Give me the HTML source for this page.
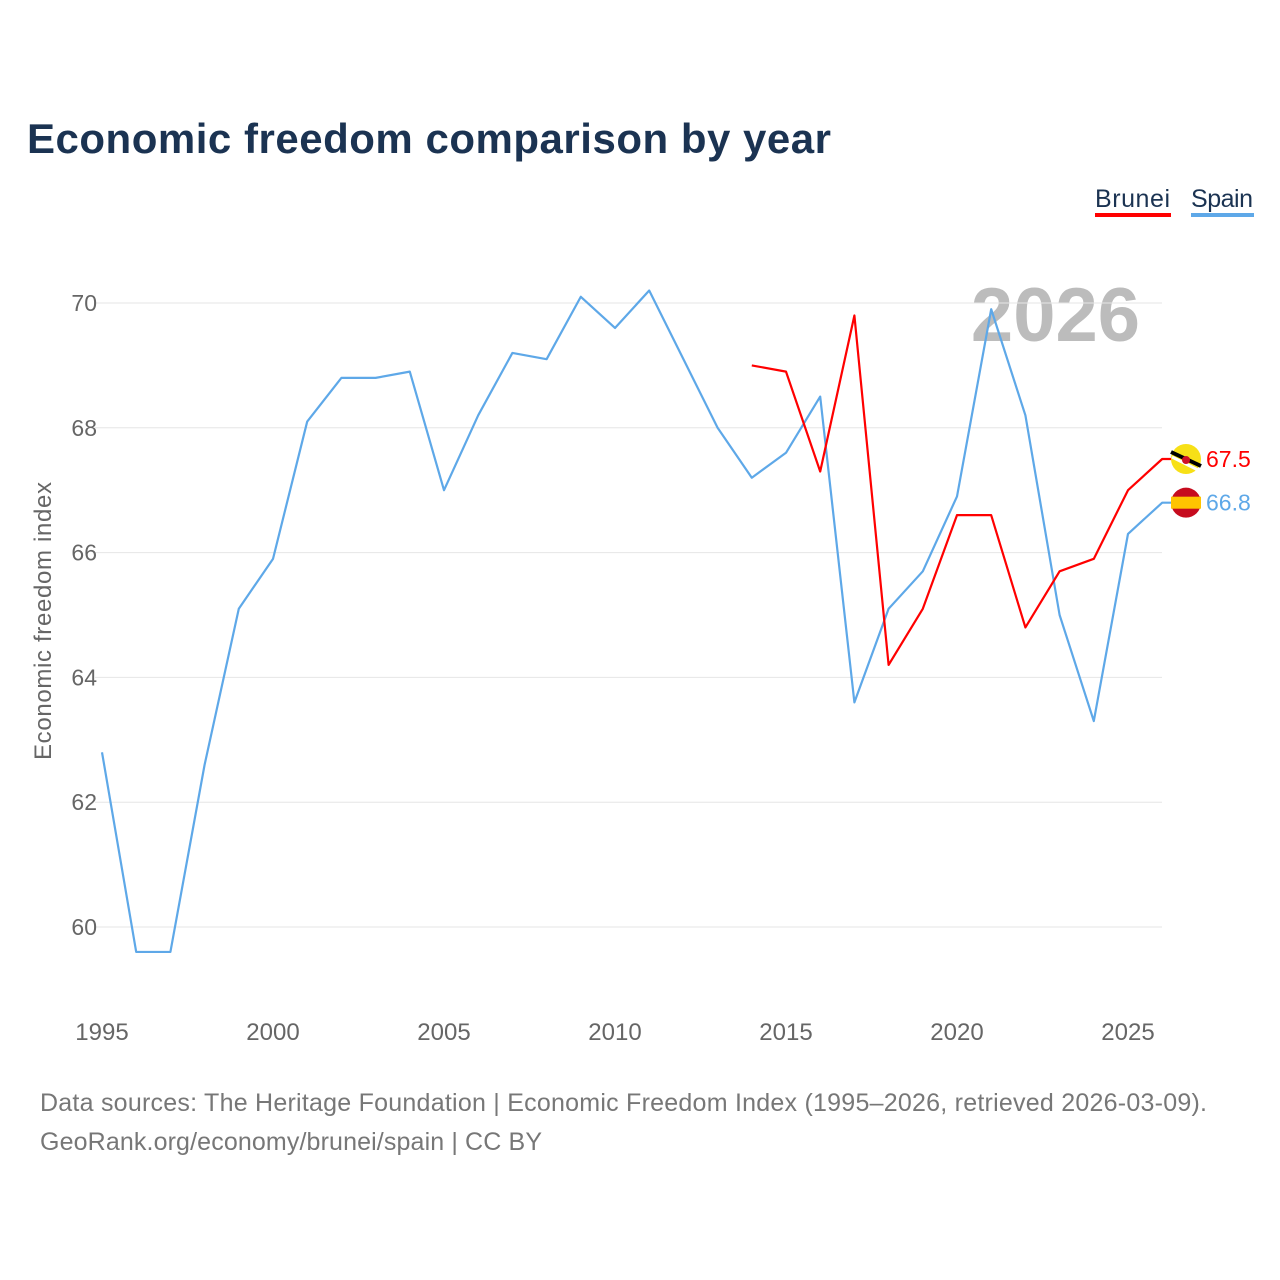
<!DOCTYPE html>
<html><head><meta charset="utf-8">
<style>
body{margin:0;background:#fff;font-family:"Liberation Sans",sans-serif;}
#wrap{position:relative;width:1280px;height:1280px;overflow:hidden;background:#fff}
</style></head>
<body>
<div id="wrap">
<svg id="chart" width="1280" height="1280">
  <text x="27" y="153" font-size="42" font-weight="bold" fill="#1b3352" textLength="804">Economic freedom comparison by year</text>
  <g>
    <text x="1095" y="207" font-size="25" fill="#1b3352" textLength="75">Brunei</text>
    <rect x="1095" y="213" width="76" height="4" fill="#ff0000"/>
  </g>
  <g>
    <text x="1191" y="207" font-size="25" fill="#1b3352" textLength="62">Spain</text>
    <rect x="1191" y="213" width="63" height="4" fill="#5ea8e8"/>
  </g>
  <text x="1140" y="341" font-size="76" font-weight="bold" fill="#bcbcbc" text-anchor="end">2026</text>
  <text transform="translate(51,621) rotate(-90)" font-size="24" fill="#666" text-anchor="middle" textLength="278">Economic freedom index</text>
  <g id="grid"></g><g id="series"></g><g id="labels"></g>
  <text x="40" y="1111" font-size="25" fill="#777" textLength="1167">Data sources: The Heritage Foundation | Economic Freedom Index (1995–2026, retrieved 2026-03-09).</text>
  <text x="40" y="1150" font-size="25" fill="#777" textLength="502">GeoRank.org/economy/brunei/spain | CC BY</text>
</svg>
</div>
<script>
const yTicks=[60,62,64,66,68,70];
const xTicks=[1995,2000,2005,2010,2015,2020,2025];
const spainYears=[1995,1996,1997,1998,1999,2000,2001,2002,2003,2004,2005,2006,2007,2008,2009,2010,2011,2012,2013,2014,2015,2016,2017,2018,2019,2020,2021,2022,2023,2024,2025,2026];
const spainValues=[62.8,59.6,59.6,62.6,65.1,65.9,68.1,68.8,68.8,68.9,67.0,68.2,69.2,69.1,70.1,69.6,70.2,69.1,68.0,67.2,67.6,68.5,63.6,65.1,65.7,66.9,69.9,68.2,65.0,63.3,66.3,66.8];
const bruneiYears=[2014,2015,2016,2017,2018,2019,2020,2021,2022,2023,2024,2025,2026];
const bruneiValues=[69.0,68.9,67.3,69.8,64.2,65.1,66.6,66.6,64.8,65.7,65.9,67.0,67.5];
const NS="http://www.w3.org/2000/svg";
const X=y=>102+(y-1995)*34.2;
const Y=v=>303+(70-v)*62.4;
function mk(t,a,p){const e=document.createElementNS(NS,t);for(const k in a)e.setAttribute(k,a[k]);p.appendChild(e);return e;}
const grid=document.getElementById('grid');
yTicks.forEach(v=>{
  const l=mk('line',{x1:95,x2:1162,y1:Y(v),y2:Y(v),stroke:'#e6e6e6','stroke-width':1},grid);
  
  
  const t=mk('text',{x:97,y:Y(v)+8,'font-size':23,fill:'#666','text-anchor':'end'},grid);
  t.textContent=v;
  
  
});
xTicks.forEach(y=>{
  const t=mk('text',{x:X(y),y:1040,'font-size':24,fill:'#666','text-anchor':'middle'},grid);
  t.textContent=y;
  
  
});
const ser=document.getElementById('series');
function line(ys,vs,c,name){
  const pts=ys.map((y,i)=>X(y)+','+Y(vs[i]));
  pts.push('1180,'+Y(vs[vs.length-1]));
  const p=mk('polyline',{points:pts.join(' '),fill:'none',stroke:c,'stroke-width':2.2,'stroke-linejoin':'round'},ser);
  
  
}
line(spainYears,spainValues,'#5ea8e8','spain-line');
line(bruneiYears,bruneiValues,'#ff0000','brunei-line');
const lab=document.getElementById('labels');
const bv=bruneiValues[bruneiValues.length-1], sv=spainValues[spainValues.length-1];
const bx=1186;
const bm=mk('g',{},lab);


mk('circle',{cx:bx,cy:Y(bv),r:15,fill:'#f7e017'},bm);
mk('line',{x1:bx-15,y1:Y(bv)-7,x2:bx+15,y2:Y(bv)+7,stroke:'#000','stroke-width':4},bm);
mk('line',{x1:bx-14,y1:Y(bv)-2,x2:bx+14,y2:Y(bv)+12,stroke:'#fff','stroke-width':3},bm);
mk('circle',{cx:bx,cy:Y(bv)+1,r:4,fill:'#cf1126'},bm);
const sm=mk('g',{},lab);


mk('circle',{cx:bx,cy:Y(sv),r:15,fill:'#c60b1e'},sm);
mk('rect',{x:bx-15,y:Y(sv)-6,width:30,height:12,fill:'#ffc400'},sm);
const bt=mk('text',{x:1206,y:Y(bv)+8,'font-size':23,fill:'#ff0000'},lab);
bt.textContent=bv.toFixed(1);


const st=mk('text',{x:1206,y:Y(sv)+8,'font-size':23,fill:'#5ea8e8'},lab);
st.textContent=sv.toFixed(1);


</script>
</body></html>
